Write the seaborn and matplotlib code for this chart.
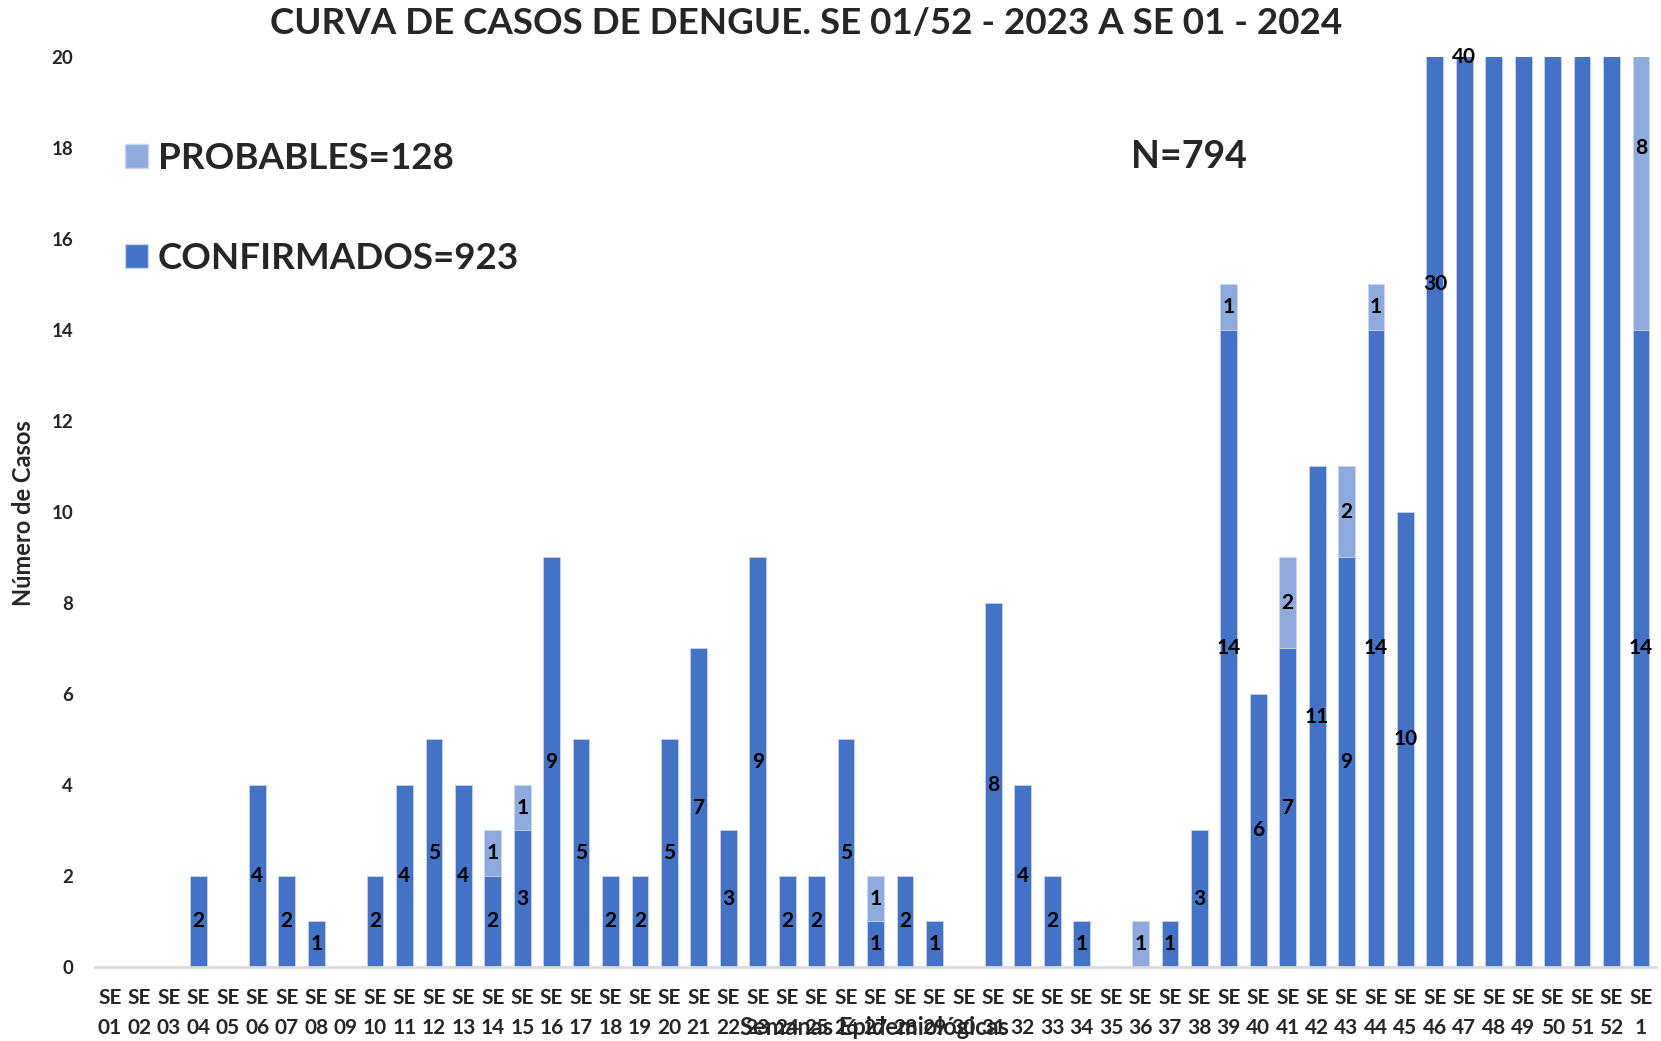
import pandas as pd
import seaborn as sns
import matplotlib.pyplot as plt
from matplotlib.patches import Patch

# Weeks (SE 01..SE 52 of 2023, then SE 1 of 2024)
weeks = ["SE\n%02d" % i for i in range(1, 53)] + ["SE\n1"]

# Confirmed cases per week (48-52 are off the chart, estimated from the total)
confirmados = [0, 0, 0, 2, 0, 4, 2, 1, 0, 2,
               4, 5, 4, 2, 3, 9, 5, 2, 2, 5,
               7, 3, 9, 2, 2, 5, 1, 2, 1, 0,
               8, 4, 2, 1, 0, 0, 1, 3, 14, 6,
               7, 11, 9, 14, 10, 30, 40, 95, 120, 140,
               160, 150, 14]

# Probable cases per week
probables = [0, 0, 0, 0, 0, 0, 0, 0, 0, 0,
             0, 0, 0, 1, 1, 0, 0, 0, 0, 0,
             0, 0, 0, 0, 0, 0, 1, 0, 0, 0,
             0, 0, 0, 0, 0, 1, 0, 0, 1, 0,
             2, 0, 2, 1, 0, 0, 0, 15, 20, 25,
             25, 25, 8]

data = pd.DataFrame({'Semana': weeks, 'Confirmados': confirmados, 'Probables': probables})
data['Total'] = data['Confirmados'] + data['Probables']

color_conf = '#4472C4'
color_prob = '#8FAADC'
edge = '#C9D6EE'

sns.set_theme(style='white')
plt.rcParams['font.family'] = ['Lato', 'DejaVu Sans']

fig = plt.figure(figsize=(16.61, 10.41), dpi=100)
ax = fig.add_axes([0.0574, 0.0711, 0.9394, 0.8742])

# stacked bars: total first (probable colour), confirmed drawn over it
sns.barplot(x='Semana', y='Total', data=data, color=color_prob, saturation=1, width=0.57,
            edgecolor=edge, linewidth=0.6, ax=ax, order=weeks)
sns.barplot(x='Semana', y='Confirmados', data=data, color=color_conf, saturation=1, width=0.57,
            edgecolor=edge, linewidth=0.6, ax=ax, order=weeks)

ax.set_ylim(0, 20)
ax.set_xlim(-0.5, len(weeks) - 0.5)
ax.set_yticks(range(0, 21, 2))

# value labels in the middle of each segment (only those inside the plot)
for i, (c, p) in enumerate(zip(confirmados, probables)):
    if c > 0 and c / 2 <= 20:
        ax.text(i, c / 2, str(c), ha='center', va='center', fontsize=15,
                fontweight='bold', color='black')
    if p > 0 and c + p / 2 <= 20:
        ax.text(i, c + p / 2, str(p), ha='center', va='center', fontsize=15,
                fontweight='bold', color='black')

for s in ['top', 'right', 'left']:
    ax.spines[s].set_visible(False)
ax.spines['bottom'].set_color('#D9D9D9')
ax.spines['bottom'].set_linewidth(2)

ax.tick_params(axis='y', length=0, pad=16, labelsize=13.5)
ax.tick_params(axis='x', length=0, pad=15, labelsize=15)
for lab in ax.get_yticklabels() + ax.get_xticklabels():
    lab.set_fontweight('bold')
for lab in ax.get_xticklabels():
    lab.set_linespacing(1.65)

ax.set_xlabel('')
ax.set_ylabel('')
fig.text(24 / 1661, 1 - 513 / 1041, 'Número de Casos', rotation=90, ha='center', va='center',
         fontsize=17, fontweight='bold')
fig.text(874 / 1661, 1 - 1035 / 1041, 'Semanas Epidemiológicas', ha='center', va='baseline',
         fontsize=17, fontweight='bold')

fig.text(806 / 1661, 1 - 23 / 1041, 'CURVA DE CASOS DE DENGUE. SE 01/52 - 2023 A SE 01 - 2024',
         ha='center', va='center', fontsize=26.5, fontweight='bold')

handles = [Patch(facecolor=color_prob, edgecolor=edge, label='PROBABLES=128'),
           Patch(facecolor=color_conf, edgecolor=edge, label='CONFIRMADOS=923')]
ax.legend(handles=handles, loc='upper left', bbox_to_anchor=(0.019, 0.907),
          frameon=False, prop={'size': 26.5, 'weight': 'bold'},
          handlelength=0.62, handleheight=0.62, handletextpad=0.27,
          labelspacing=1.83, borderpad=0, borderaxespad=0)

fig.text(1189 / 1661, 1 - 157 / 1041, 'N=794', ha='center', va='center',
         fontsize=27, fontweight='bold')

plt.savefig('out.png', dpi=100)
